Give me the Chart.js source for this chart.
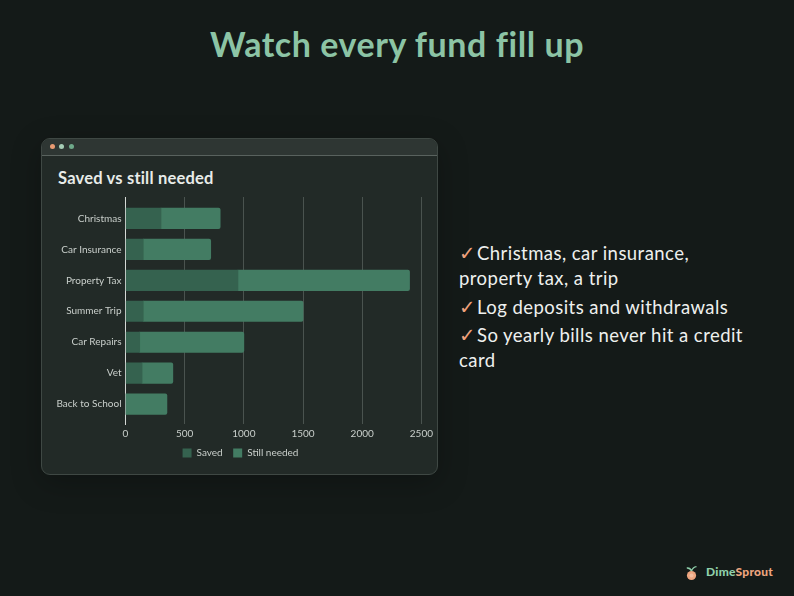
<!DOCTYPE html>
<html>
<head>
<meta charset="utf-8">
<script src="https://cdn.jsdelivr.net/npm/chart.js@4"></script>
<style>
  html, body { margin: 0; padding: 0; }
  body { width: 794px; height: 596px; background: #141a18; position: relative; overflow: hidden; font-family: Lato, sans-serif; }
  h1 { position: absolute; left: 0; top: 22px; width: 794px; margin: 0; text-align: center; font-size: 34px; line-height: 44px; font-weight: 700; letter-spacing: .55px; color: #8cc4a5; }
  .card { position: absolute; left: 41px; top: 138px; width: 397px; height: 337px; box-sizing: border-box; background: #222a27; border: 1px solid #3f4844; border-radius: 9px; box-shadow: 0 8px 30px rgba(0,0,0,.25); overflow: hidden; }
  .bar { height: 16px; background: #2e3633; border-bottom: 1px solid #59625e; }
  .dot { position: absolute; top: 5px; width: 5px; height: 5px; border-radius: 50%; }
  .card h2 { position: absolute; left: 16px; top: 29px; margin: 0; font-size: 16.5px; line-height: 20px; font-weight: 700; letter-spacing: .2px; color: #e8ece9; }
  canvas { position: absolute; left: 0; top: 17px; }
  ul { position: absolute; left: 459px; top: 241px; width: 300px; margin: 0; padding: 0; list-style: none; font-size: 18.5px; line-height: 25px; letter-spacing: .45px; color: #eef0ee; }
  li { margin-bottom: 3.7px; }
  li span { display: inline-block; width: 18px; line-height: 0; color: #f0a27c; font-family: "DejaVu Sans"; font-weight: 700; font-size: 19.5px; letter-spacing: 0; }
  .logo { position: absolute; left: 684px; top: 563px; width: 100px; height: 18px; font-size: 12px; line-height: 18px; font-weight: 700; letter-spacing: .25px; }
  .logo svg { position: absolute; left: 0; top: 1px; }
  .logo b { position: absolute; left: 22px; top: 0; white-space: nowrap; color: #8fd0ab; }
  .logo i { font-style: normal; color: #eda57f; }
</style>
</head>
<body>
<h1>Watch every fund fill up</h1>
<div class="card">
  <div class="bar"></div>
  <div class="dot" style="left:8px;background:#e89a72"></div>
  <div class="dot" style="left:17px;background:#a6cdb6"></div>
  <div class="dot" style="left:27px;background:#6ea98a"></div>
  <h2>Saved vs still needed</h2>
  <canvas id="myChart" width="395" height="319" style="width:395px;height:319px"></canvas>
</div>
<ul>
  <li><span>✓</span>Christmas, car insurance, property tax, a trip</li>
  <li><span>✓</span>Log deposits and withdrawals</li>
  <li><span>✓</span>So yearly bills never hit a credit card</li>
</ul>
<div class="logo">
  <svg width="18" height="18" viewBox="0 0 18 18">
    <circle cx="7.5" cy="11.5" r="4.6" fill="#eda57f"/>
    <circle cx="7.5" cy="11.5" r="2" fill="#f3bd9f"/>
    <path d="M7.5 7 C6.5 4.5 4.5 3.8 2.8 4 M7.5 7 C8.5 4 10.5 2.8 12.5 2.6" stroke="#8fd0ab" stroke-width="1.4" fill="none"/>
  </svg>
  <b>Dime<i>Sprout</i></b>
</div>
<script>
let labels1 = ['Christmas', 'Car Insurance', 'Property Tax', 'Summer Trip', 'Car Repairs', 'Vet', 'Back to School'];
let saved = [300, 150, 950, 150, 120, 140, 0];
let stillNeeded = [500, 570, 1450, 1350, 880, 260, 350];
let xTicks = [0, 500, 1000, 1500, 2000, 2500];

let textColor = '#c9cfcb';
let tickFont = { family: 'Lato', size: 10 };

let myChart1 = document.getElementById('myChart').getContext('2d');

let chart1 = new Chart(myChart1, {
    type: 'bar',
    data: {
        labels: labels1,
        datasets: [{
            label: 'Saved',
            data: saved,
            backgroundColor: '#35624f',
            barThickness: 20.5
        }, {
            label: 'Still needed',
            data: stillNeeded,
            backgroundColor: '#437c63',
            borderRadius: { topRight: 2, bottomRight: 2 },
            borderSkipped: false,
            barThickness: 20.5
        }]
    },
    options: {
        indexAxis: 'y',
        responsive: false,
        animation: false,
        layout: { padding: { top: 41, right: 12.5, bottom: 7, left: 14.5 } },
        plugins: {
            legend: {
                position: 'bottom',
                labels: { color: textColor, font: tickFont, boxWidth: 9, boxHeight: 9, padding: 10.5 }
            },
            tooltip: { enabled: false }
        },
        scales: {
            x: {
                stacked: true,
                min: 0,
                max: 2500,
                afterBuildTicks: function (scale) {
                    scale.ticks = xTicks.map(function (v) { return { value: v }; });
                },
                afterFit: function (scale) { scale.height = 13.5; },
                grid: { color: '#4a534f', drawTicks: false },
                border: { display: false },
                ticks: {
                    color: textColor,
                    font: tickFont,
                    padding: 4,
                    maxRotation: 0,
                    callback: function (v) { return String(v); }
                }
            },
            y: {
                stacked: true,
                afterFit: function (scale) { scale.width = 69; },
                // rows are 31px but the axis runs 6px past them at both ends
                afterBuildTicks: function (scale) {
                    scale._valueRange = 7.335;
                    scale._startValue = -0.692;
                },
                grid: { display: false, drawTicks: false },
                border: { display: true, color: '#d5d9d6', width: 1 },
                ticks: { color: textColor, font: tickFont, padding: 4 }
            }
        }
    }
});
</script>
</body>
</html>
